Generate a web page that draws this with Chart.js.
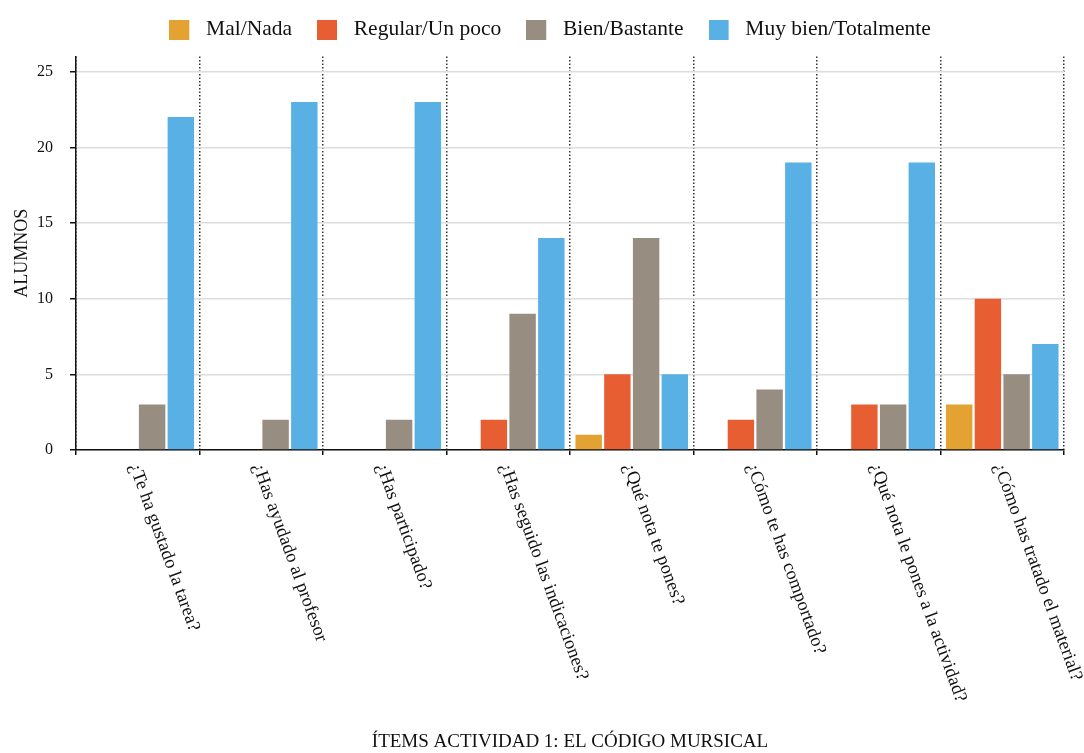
<!DOCTYPE html>
<html lang="es">
<head>
  <meta charset="UTF-8">
  <title>Ítems actividad 1: el código mursical</title>
  <script src="https://cdn.jsdelivr.net/npm/chart.js"></script>
  <style>
    html, body {
      margin: 0;
      padding: 0;
      background: #ffffff;
    }
    .chart-box {
      width: 1084px;
      height: 753px;
    }
  </style>
</head>
<body>
  <div class="chart-box">
    <canvas id="itemsChart"></canvas>
  </div>
  <script>
    // Datos
    const items = [
      '¿Te ha gustado la tarea?',
      '¿Has ayudado al profesor',
      '¿Has participado?',
      '¿Has seguido las indicaciones?',
      '¿Qué nota te pones?',
      '¿Cómo te has comportado?',
      '¿Qué nota le pones a la actividad?',
      '¿Cómo has tratado el material?'
    ];
    const malNada = [0, 0, 0, 0, 1, 0, 0, 3];
    const regularUnPoco = [0, 0, 0, 2, 5, 2, 3, 10];
    const bienBastante = [3, 2, 2, 9, 14, 4, 3, 5];
    const muyBienTotalmente = [22, 23, 23, 14, 5, 19, 19, 7];
    const yTicks = [0, 5, 10, 15, 20, 25];

    const colors = ['#E3A232', '#E85E33', '#978D81', '#58B0E4'];
    const serif = "'Liberation Serif', 'Times New Roman', serif";

    // cuadrado de leyenda con un hueco a la derecha (más aire hasta el texto)
    function legendSwatch(color) {
      const c = document.createElement('canvas');
      c.width = 26;
      c.height = 20;
      const g = c.getContext('2d');
      g.fillStyle = color;
      g.fillRect(0, 0, 20, 20);
      return c;
    }
    const swatches = colors.map(legendSwatch);

    // etiquetas del eje x giradas hacia abajo a la derecha
    const slantedLabels = {
      id: 'slantedLabels',
      afterDraw(chart) {
        const ctx = chart.ctx;
        const xScale = chart.scales.x;
        const top = xScale.top + 14;
        ctx.save();
        ctx.font = '18.5px ' + serif;
        ctx.fillStyle = '#111';
        ctx.textAlign = 'left';
        ctx.textBaseline = 'middle';
        items.forEach((label, i) => {
          const x = xScale.getPixelForTick(i) - 4;
          ctx.save();
          ctx.translate(x, top);
          ctx.rotate(70 * Math.PI / 180);
          ctx.fillText(label, 0, 0);
          ctx.restore();
        });
        ctx.restore();
      }
    };

    // mueve la leyenda (arriba y a la derecha) sin tocar el área del gráfico
    const legendNudge = {
      id: 'legendNudge',
      afterLayout(chart) {
        const lg = chart.legend;
        lg.top -= 6;
        lg.bottom -= 6;
        lg.left += 18;
        lg.right += 18;
      }
    };

    const chart = new Chart(document.getElementById('itemsChart'), {
      type: 'bar',
      data: {
        labels: items,
        datasets: [
          { label: 'Mal/Nada', data: malNada, backgroundColor: colors[0] },
          { label: 'Regular/Un poco', data: regularUnPoco, backgroundColor: colors[1] },
          { label: 'Bien/Bastante', data: bienBastante, backgroundColor: colors[2] },
          { label: 'Muy bien/Totalmente', data: muyBienTotalmente, backgroundColor: colors[3] }
        ]
      },
      options: {
        responsive: true,
        maintainAspectRatio: false,
        animation: false,
        categoryPercentage: 0.93,
        barPercentage: 0.92,
        layout: {
          padding: { top: 0, right: 20, bottom: 0, left: 0 }
        },
        plugins: {
          legend: {
            position: 'top',
            labels: {
              usePointStyle: true,
              pointStyleWidth: 26,
              boxHeight: 20,
              padding: 25,
              color: '#111',
              font: { family: serif, size: 21.5 },
              generateLabels(chart) {
                const base = Chart.defaults.plugins.legend.labels.generateLabels(chart);
                base.forEach((item, i) => { item.pointStyle = swatches[i]; });
                return base;
              }
            }
          },
          tooltip: { enabled: false }
        },
        scales: {
          x: {
            grid: {
              offset: true,
              color: '#333',
              lineWidth: 1.5,
              tickColor: '#111',
              tickLength: 5,
              tickWidth: 1.5
            },
            border: { color: '#111', width: 1.5, dash: [1.5, 2] },
            ticks: { display: false },
            title: {
              display: true,
              text: 'ÍTEMS ACTIVIDAD 1: EL CÓDIGO MURSICAL',
              color: '#111',
              font: { family: serif, size: 19 },
              padding: { top: 0, bottom: 0 }
            },
            afterFit(scale) {
              scale.height = 303;
            }
          },
          y: {
            min: 0,
            max: 26,
            afterBuildTicks(scale) {
              scale.ticks = yTicks.map(v => ({ value: v }));
            },
            grid: {
              color: '#dddddd',
              lineWidth: 1.5,
              tickColor: '#111',
              tickLength: 6,
              tickWidth: 1.5
            },
            border: { color: '#111', width: 1.5 },
            ticks: {
              color: '#111',
              padding: 17,
              font: { family: serif, size: 16 }
            },
            title: {
              display: true,
              text: 'ALUMNOS',
              color: '#111',
              font: { family: serif, size: 18 },
              padding: { top: 11, bottom: 0 }
            },
            afterFit(scale) {
              scale.width = 76;
            }
          }
        }
      },
      plugins: [slantedLabels, legendNudge]
    });
  </script>
</body>
</html>
